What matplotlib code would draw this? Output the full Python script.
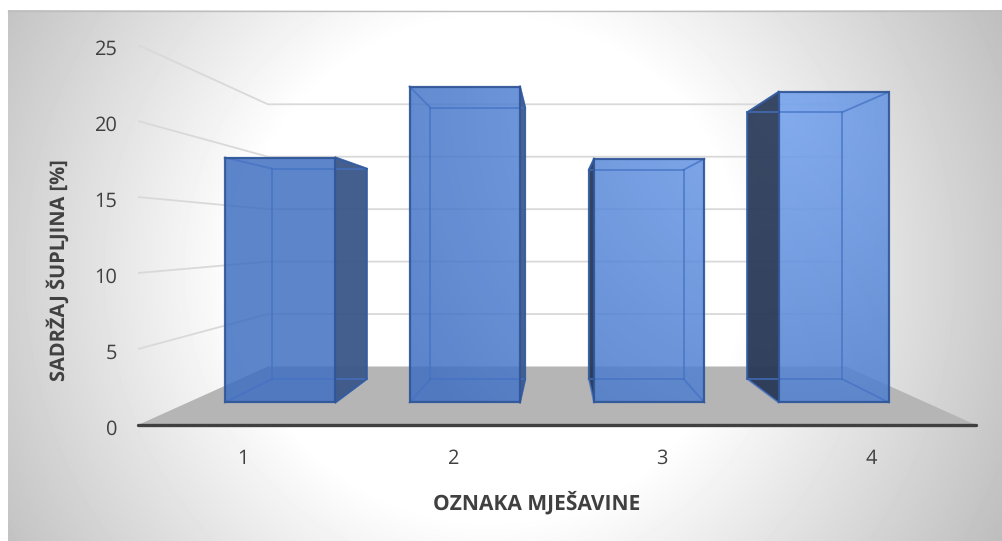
import numpy as np
import matplotlib
matplotlib.use("Agg")
import matplotlib.pyplot as plt
from matplotlib.patches import Polygon
from matplotlib.colors import to_rgb
from matplotlib.transforms import ScaledTranslation

# ---- data
categories = [1, 2, 3, 4]
values = [18.3, 23.6, 18.2, 23.2]
y_ticks = [0, 5, 10, 15, 20, 25]
x_title = "OZNAKA MJEŠAVINE"
y_title = "SADRŽAJ ŠUPLJINA [%]"

# ---- style / layout (pixels of the 1003x541 canvas)
W, H = 1003, 541
AX_L, AX_R, AX_B, AX_T = 138, 976, 425, 45
BAR_W = 0.598
FACE_FRONT, FACE_BACK = 0.385, 0.786   # depth of bar faces (0 front, 1 back wall)
SHRINK = 0.31                          # perspective shrink at the back wall
VAN_X, VAN_V = 2.5, 12.42              # vanishing point in data units
TXT = "#404040"
plt.rcParams["font.family"] = ["Open Sans", "DejaVu Sans"]
plt.rcParams["text.hinting"] = "no_hinting"
plt.rcParams["text.hinting_factor"] = 1


def project(x, v, t):
    """Map a (category, value, depth) point on to the front plane of the axes."""
    s = 1 - SHRINK * t
    return VAN_X + (x - VAN_X) * s, VAN_V + (v - VAN_V) * s


fig = plt.figure(figsize=(W / 100, H / 100), dpi=100, facecolor="white")

# background panel with radial gradient
bg = fig.add_axes([0, 0, 1, 1], zorder=0)
bg.set_axis_off()
px, py = np.meshgrid(np.arange(8, W) + .5, np.arange(10, H) + .5)
r = np.hypot(px - 490, py - 270)
grey = np.clip(255 - np.clip(r - 250, 0, None) * 0.2, 0, 255) / 255
bg.imshow(grey, cmap="gray", vmin=0, vmax=1, extent=(8, W, H, 10), aspect="auto",
          interpolation="bilinear")
bg.plot([8, W], [10.5, 10.5], color="#BEBEBE", lw=1)
bg.set_xlim(0, W)
bg.set_ylim(H, 0)

# main axes: the front plane of the 3D box
ax = fig.add_axes([AX_L / W, 1 - AX_B / H, (AX_R - AX_L) / W, (AX_B - AX_T) / H], zorder=1)
ax.patch.set_alpha(0)
ax.set_xlim(0.5, 4.5)
ax.set_ylim(0, 25)
for name in ("left", "right", "top"):
    ax.spines[name].set_visible(False)
ax.spines["bottom"].set_linewidth(2.4)
ax.spines["bottom"].set_color(TXT)
ax.spines["bottom"].set_capstyle("round")
ax.spines["bottom"].set_zorder(6)
ax.set_xticks(categories, [str(c) for c in categories])
ax.set_yticks(y_ticks, [str(v) for v in y_ticks])
ax.tick_params(length=0, labelsize=14.5, labelcolor=TXT)
ax.tick_params(axis="x", pad=17)
ax.tick_params(axis="y", pad=15)
down = ScaledTranslation(0, -2 / 100, fig.dpi_scale_trans)
for lab in ax.get_yticklabels():
    lab.set_transform(lab.get_transform() + down)
ax.set_xlabel(x_title, fontsize=15, fontweight="bold", color=TXT)
ax.set_ylabel(y_title, fontsize=14.4, fontweight="bold", color=TXT)
ax.xaxis.set_label_coords(0.476, -0.174)
ax.yaxis.set_label_coords(-0.0945, 0.408)
ax.yaxis.label.set_verticalalignment("center")

x0, x1 = ax.get_xlim()

# floor
floor = [project(x0, 0, 0), project(x1, 0, 0), project(x1, 0, 1), project(x0, 0, 1)]
ax.add_patch(Polygon(floor, closed=True, fc="#B5B5B5", ec="none", zorder=1))

# gridlines on left wall and back wall
for v in y_ticks[1:]:
    pts = [project(x0, v, 0), project(x0, v, 1), project(x1, v, 1)]
    ax.plot(*zip(*pts), color="#D9D9D9", lw=1.3, zorder=1.5, solid_joinstyle="miter")

# gradient used for the blue faces
dark_c = np.array(to_rgb("#3F6FC2"))
light_c = np.array(to_rgb("#6F9FED"))
gx, gy = np.meshgrid(np.arange(W) + .5, np.arange(H) + .5)
L = np.clip(1 - np.hypot(gx - 790, gy - 110) / 450, 0, 1)[..., None]
rgba = np.dstack([dark_c + (light_c - dark_c) * L, np.full((H, W), 0.85)])
ext = (x0 - AX_L / (AX_R - AX_L) * (x1 - x0),
       x0 + (W - AX_L) / (AX_R - AX_L) * (x1 - x0),
       0 - (H - AX_B) / (AX_B - AX_T) * 25,
       0 + AX_B / (AX_B - AX_T) * 25)

for i, (c, v) in enumerate(zip(categories, values)):
    xa, xb = c - BAR_W / 2, c + BAR_W / 2
    fbl, fbr = project(xa, 0, FACE_FRONT), project(xb, 0, FACE_FRONT)
    ftl, ftr = project(xa, v, FACE_FRONT), project(xb, v, FACE_FRONT)
    bbl, bbr = project(xa, 0, FACE_BACK), project(xb, 0, FACE_BACK)
    btl, btr = project(xa, v, FACE_BACK), project(xb, v, FACE_BACK)

    left_visible = c > VAN_X
    if left_visible:
        hull = [btl, ftl, ftr, fbr, fbl, bbl]
        side = [ftl, btl, bbl, fbl]
        side_col = "#1C222F"
    else:
        hull = [ftl, ftr, btr, bbr, fbr, fbl]
        side = [ftr, btr, bbr, fbr]
        side_col = "#3B5077"

    poly = Polygon(hull, closed=True, transform=ax.transData, fc="none", ec="none")
    ax.add_patch(poly)
    im = ax.imshow(rgba, extent=ext, aspect="auto", zorder=2 + i * 0.1, interpolation="bilinear")
    im.set_clip_path(poly)
    ax.add_patch(Polygon(side, closed=True, fc=side_col, ec="none", alpha=0.72, zorder=2.02 + i * 0.1))

    # inner (back) edges, lighter
    inner = [(btl, btr), (btr, bbr), (bbr, bbl), (bbl, btl), (ftl, btl), (ftr, btr), (fbl, bbl), (fbr, bbr)]
    for p, q in inner:
        ax.plot(*zip(p, q), color="#4472C4", lw=1.3, alpha=0.75, zorder=2.03 + i * 0.1)
    # outline, darker
    front = [ftl, ftr, fbr, fbl, ftl]
    ax.plot(*zip(*front), color="#2F5597", lw=1.6, alpha=0.9, zorder=2.05 + i * 0.1,
            solid_joinstyle="miter")
    rim = [bbl, btl, ftl] if left_visible else [ftr, btr, bbr, fbr]
    ax.plot(*zip(*rim), color="#2F5597", lw=1.4, alpha=0.75, zorder=2.05 + i * 0.1,
            solid_joinstyle="miter")

ax.set_xlim(x0, x1)
ax.set_ylim(0, 25)
fig.savefig("out.png", dpi=100, facecolor="white")
